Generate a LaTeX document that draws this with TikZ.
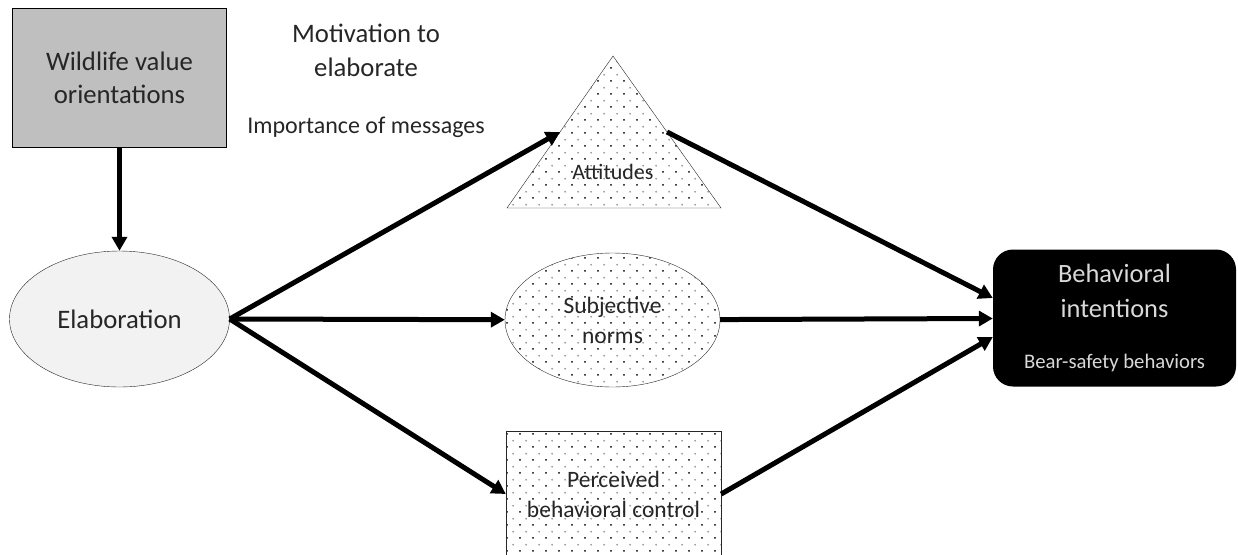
\documentclass[tikz,border=0pt]{standalone}
\usepackage{fontspec}
\setmainfont{Carlito}
\usetikzlibrary{arrows.meta,shapes.geometric,patterns,calc,positioning}
\definecolor{ink}{HTML}{262626}
\definecolor{wvogray}{HTML}{BFBFBF}
\definecolor{elabfill}{HTML}{F2F2F2}
\definecolor{dotgray}{HTML}{999999}
\pgfdeclarepatterninherentlycolored{speckle}{\pgfpointorigin}{\pgfqpoint{12.6pt}{12.6pt}}{\pgfqpoint{12.6pt}{12.6pt}}{%
  \pgfsetfillcolor{black}%
  \pgfpathcircle{\pgfqpoint{3.1pt}{3.2pt}}{1pt}\pgfusepath{fill}%
  \pgfsetfillcolor{dotgray}%
  \pgfpathcircle{\pgfqpoint{9.4pt}{9.5pt}}{1.1pt}\pgfusepath{fill}}
\tikzstyle{box} = [rectangle, draw=black, fill=wvogray, text=ink, align=center, minimum width=214pt, minimum height=139pt, font=\fontsize{26.7}{33}\selectfont]
\tikzstyle{oval} = [ellipse, draw=ink, fill=elabfill, text=ink, align=center, inner sep=0pt, minimum width=220pt, minimum height=136pt, font=\fontsize{26.7}{33}\selectfont]
\tikzstyle{speck} = [draw=ink, pattern=speckle, text=ink, align=center, inner sep=0pt, font=\fontsize{23.5}{30}\selectfont]
\tikzstyle{goal} = [rectangle, rounded corners=20pt, fill=black, text=white!85!black, align=center, minimum width=243pt, minimum height=137pt, font=\fontsize{26.4}{35}\selectfont]
\tikzstyle{note} = [text=ink, align=center]
\tikzstyle{arr} = [-{Triangle[length=14pt,width=15pt]}, line width=5pt, black]

\begin{document}
\begin{tikzpicture}[x=1pt,y=-1pt]
	\useasboundingbox (0,0) rectangle (1238,554);

	\node[box] (wvo) at (119.5,77.5) {Wildlife value\\orientations};
	\node[oval] (elab) at (119.5,319) {Elaboration};
	\node[note, font=\fontsize{26.7}{34}\selectfont] (mot) at (366,50) {Motivation to\\elaborate};
	\node[note, font=\fontsize{24}{29}\selectfont] (imp) at (366,127) {Importance of messages};

	% attitudes triangle
	\coordinate (att-top) at (613,56);
	\coordinate (att-r) at (721,208);
	\coordinate (att-l) at (507,208);
	\draw[draw=ink, pattern=speckle] (att-top) -- (att-r) -- (att-l) -- cycle;
	\node[note, font=\fontsize{22}{27}\selectfont] (att) at (613,172) {Attitudes};
	\coordinate (att-in) at ($(att-top)!0.5!(att-l)$);
	\coordinate (att-out) at ($(att-top)!0.5!(att-r)$);

	\node[speck, ellipse, minimum width=215pt, minimum height=134pt] (sn) at (612.5,320) {Subjective\\norms};
	\node[speck, rectangle, minimum width=215pt, minimum height=126pt] (pbc) at (613.5,494) {Perceived\\behavioral control};
	\node[goal] (bi) at (1114.5,318) {Behavioral\\intentions\\[16pt]{\fontsize{20.7}{25}\selectfont Bear-safety behaviors}};

	\draw[arr] (wvo) -- (elab);
	\draw[arr] (elab.east) -- (att-in);
	\draw[arr] (elab.east) -- (sn);
	\draw[arr] (elab.east) -- (pbc.west);
	\draw[arr] (att-out) -- ([yshift=20pt]bi.west);
	\draw[arr] (sn) -- (bi);
	\draw[arr] (pbc.east) -- ([yshift=-19pt]bi.west);
\end{tikzpicture}
\end{document}
